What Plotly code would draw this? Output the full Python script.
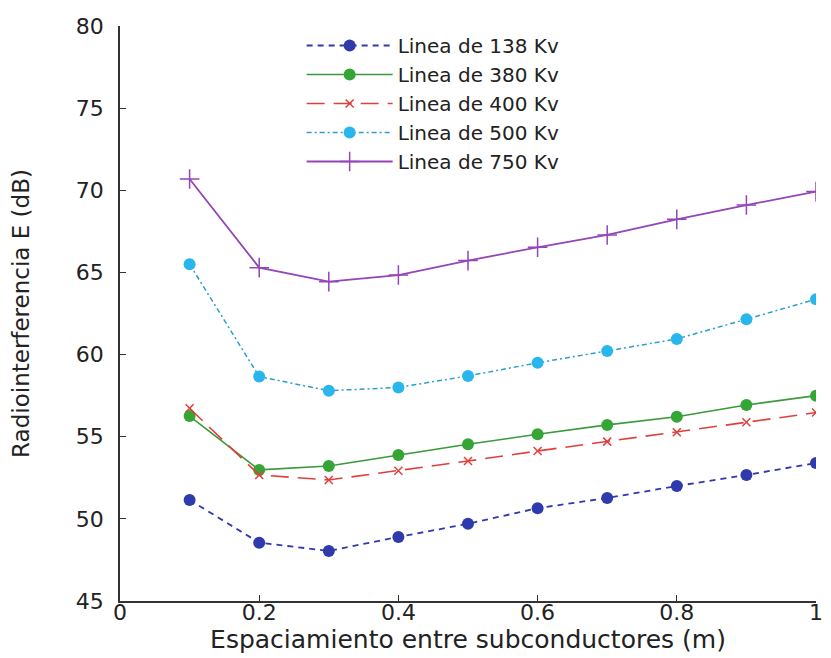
import plotly.graph_objects as go

spacing = [0.1, 0.2, 0.3, 0.4, 0.5, 0.6, 0.7, 0.8, 0.9, 1.0]

linea_138 = [51.15, 48.55, 48.05, 48.9, 49.7, 50.65, 51.27, 52.0, 52.67, 53.4]
linea_380 = [56.26, 52.98, 53.22, 53.89, 54.54, 55.15, 55.72, 56.22, 56.93, 57.5]
linea_400 = [56.73, 52.67, 52.37, 52.93, 53.52, 54.13, 54.7, 55.27, 55.88, 56.47]
linea_500 = [65.5, 58.66, 57.8, 58.0, 58.7, 59.5, 60.22, 60.95, 62.15, 63.37]
linea_750 = [70.69, 65.29, 64.44, 64.84, 65.72, 66.53, 67.28, 68.23, 69.1, 69.92]

names = ["Linea de 138 Kv", "Linea de 380 Kv", "Linea de 400 Kv",
         "Linea de 500 Kv", "Linea de 750 Kv"]

x_ticks = [0, 0.2, 0.4, 0.6, 0.8, 1]
x_tick_labels = ["0", "0.2", "0.4", "0.6", "0.8", "1"]
y_ticks = [45, 50, 55, 60, 65, 70, 75, 80]

FONT = "DejaVu Sans"

fig = go.Figure()

fig.add_trace(go.Scatter(
    x=spacing, y=linea_138, name=names[0], mode="lines+markers",
    line=dict(color="#2f3aad", width=1.8, dash="6px,5px"),
    marker=dict(symbol="circle", size=12, color="#2f3aad")))
fig.add_trace(go.Scatter(
    x=spacing, y=linea_380, name=names[1], mode="lines+markers",
    line=dict(color="#3a9a3a", width=1.6),
    marker=dict(symbol="circle", size=12, color="#35a535")))
fig.add_trace(go.Scatter(
    x=spacing, y=linea_400, name=names[2], mode="lines+markers",
    line=dict(color="#e0403c", width=1.6, dash="18px,9px"),
    marker=dict(symbol="x-thin", size=8, color="#e0403c",
                line=dict(color="#e0403c", width=1.5))))
fig.add_trace(go.Scatter(
    x=spacing, y=linea_500, name=names[3], mode="lines+markers",
    line=dict(color="#2a9fd0", width=1.5, dash="5px,3px,2px,3px"),
    marker=dict(symbol="circle", size=12, color="#29b6ec")))
fig.add_trace(go.Scatter(
    x=spacing, y=linea_750, name=names[4], mode="lines+markers",
    line=dict(color="#9445b8", width=1.8),
    marker=dict(symbol="cross-thin", size=14, color="#9445b8",
                line=dict(color="#9445b8", width=1.5))))

fig.update_layout(
    width=823, height=650,
    margin=dict(l=112, r=15, t=18, b=57),
    paper_bgcolor="white", plot_bgcolor="white",
    font=dict(family=FONT, size=21, color="#222222"),
    legend=dict(x=0.261, y=1.0, xanchor="left", yanchor="top",
                bgcolor="rgba(255,255,255,0)", font=dict(size=20),
                itemwidth=86, tracegroupgap=0),
    showlegend=True,
)
fig.update_xaxes(
    range=[0, 1], tickvals=x_ticks, ticktext=x_tick_labels,
    showgrid=False, zeroline=False, showline=True, linecolor="#333333",
    linewidth=1.5, ticks="inside", ticklen=6, tickcolor="#333333",
    automargin=False, ticklabelstandoff=-9,
    title=dict(text="Espaciamiento entre subconductores (m)", standoff=5,
               font=dict(size=25)),
    tickfont=dict(size=22))
fig.update_yaxes(
    range=[45, 80], tickvals=y_ticks,
    showgrid=False, zeroline=False, showline=True, linecolor="#333333",
    linewidth=1.5, ticks="inside", ticklen=6, tickcolor="#333333",
    automargin=False,
    title=dict(text="Radiointerferencia E (dB)", standoff=40,
               font=dict(size=23)),
    tickfont=dict(size=22), ticklabelstandoff=10)

fig.write_html("out.html")
